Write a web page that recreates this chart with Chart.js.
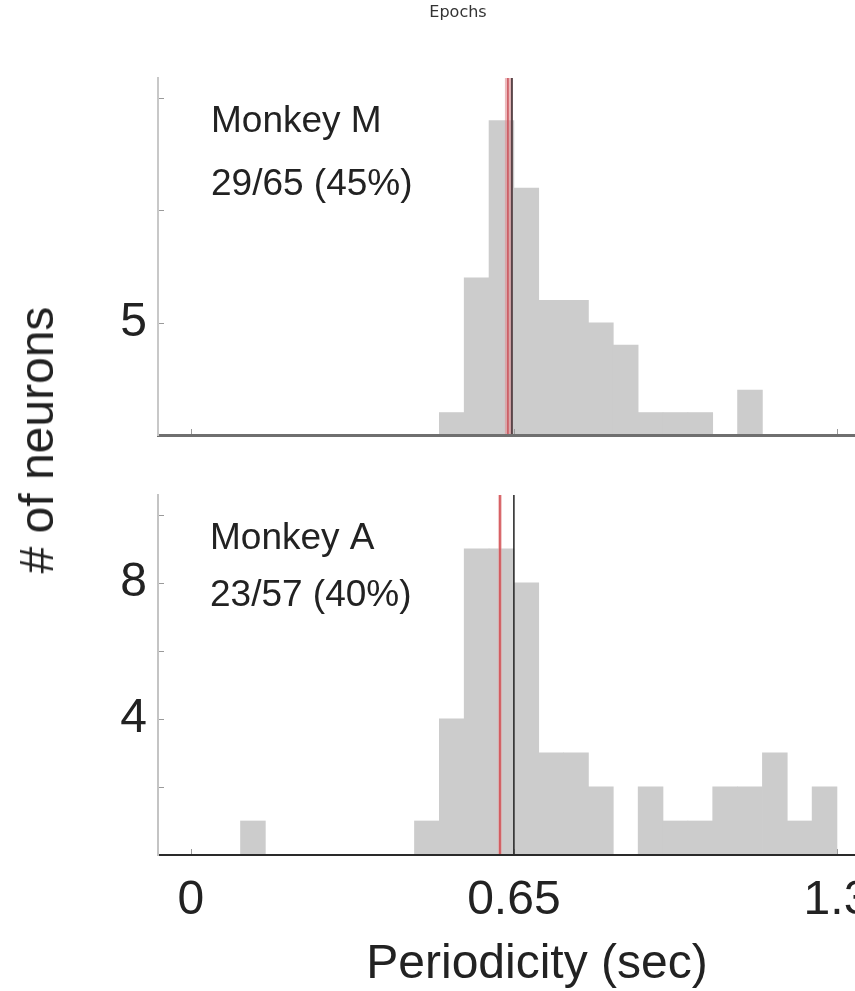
<!DOCTYPE html>
<html>
<head>
<meta charset="utf-8">
<title>Periodicity histogram</title>
<script src="https://cdn.jsdelivr.net/npm/chart.js@4.4.1/dist/chart.umd.min.js"></script>
<style>
  html, body { margin: 0; padding: 0; background: #fff; overflow: hidden; }
  body { width: 855px; height: 991px; position: relative; }
  canvas { position: absolute; left: 0; }
  #topChart { top: 0; }
  #bottomChart { top: 460px; }
  #yTitle {
    position: absolute; left: 37px; top: 440px;
    transform: translate(-50%, -50%) rotate(-90deg);
    font: 48px "Liberation Sans", Arial, sans-serif; line-height: 1;
    color: #222; white-space: nowrap;
  }
</style>
</head>
<body>
<canvas id="topChart" width="916" height="470"></canvas>
<canvas id="bottomChart" width="916" height="531"></canvas>
<div id="yTitle"># of neurons</div>
<script>
// bin left edges (sec), each bin 0.05 wide
var binWidth = 0.05;
var binStarts = [0.10, 0.15, 0.20, 0.25, 0.30, 0.35, 0.40, 0.45, 0.50, 0.55, 0.60, 0.65,
                 0.70, 0.75, 0.80, 0.85, 0.90, 0.95, 1.00, 1.05, 1.10, 1.15, 1.20, 1.25];
var countsM = [0, 0, 0, 0, 0, 0, 0, 0, 1, 7, 14, 11, 6, 6, 5, 4, 1, 1, 1, 0, 2, 0, 0, 0];
var countsA = [1, 0, 0, 0, 0, 0, 0, 1, 4, 9, 9, 8, 3, 3, 2, 0, 2, 1, 1, 2, 2, 3, 1, 2];

var xTickValues = [0, 0.65, 1.3];
var xTickLabels = ['0', '0.65', '1.3'];
var yTicksM = [5, 10, 15];
var yLabelsM = ['5', '', ''];
var yTicksA = [2, 4, 6, 8, 10];
var yLabelsA = ['', '4', '', '8', ''];

// red / black reference lines (sec)
var redLineM = 0.638, blackLineM = 0.646;
var redLineA = 0.622, blackLineA = 0.650;

var textM = ['Monkey M', '29/65 (45%)'];
var textA = ['Monkey A', '23/57 (40%)'];

var sans = '"Liberation Sans", Arial, sans-serif';

function toBins(counts) {
    return binStarts.map(function(s, i) {
        return { x: s + binWidth / 2, y: counts[i] };
    });
}

// inward tick marks, reference lines and panel labels
var panelPlugin = {
    id: 'panel',
    afterDatasetsDraw: function(chart, args, opts) {
        var ctx = chart.ctx, area = chart.chartArea;
        var xs = chart.scales.x, ys = chart.scales.y;
        ctx.save();
        ctx.strokeStyle = '#9a9a9a';
        ctx.lineWidth = 1;
        ys.ticks.forEach(function(t) {
            var py = Math.round(ys.getPixelForValue(t.value)) + 0.5;
            ctx.beginPath();
            ctx.moveTo(area.left, py);
            ctx.lineTo(area.left + 6, py);
            ctx.stroke();
        });
        xs.ticks.forEach(function(t) {
            var px = Math.round(xs.getPixelForValue(t.value)) + 0.5;
            ctx.beginPath();
            ctx.moveTo(px, area.bottom);
            ctx.lineTo(px, area.bottom - 6);
            ctx.stroke();
        });
        opts.lines.forEach(function(l) {
            var px = xs.getPixelForValue(l.value);
            ctx.strokeStyle = l.color;
            ctx.lineWidth = l.width;
            ctx.beginPath();
            ctx.moveTo(px, area.top);
            ctx.lineTo(px, area.bottom);
            ctx.stroke();
        });
        ctx.fillStyle = '#222';
        ctx.font = '37px ' + sans;
        ctx.textAlign = 'left';
        ctx.textBaseline = 'alphabetic';
        opts.texts.forEach(function(s, i) {
            ctx.fillText(s, area.left + opts.textX, area.top + opts.textY[i]);
        });
        ctx.restore();
    }
};

function makeChart(id, counts, cfg) {
    return new Chart(document.getElementById(id), {
        type: 'bar',
        data: {
            datasets: [{
                data: toBins(counts),
                backgroundColor: '#cccccc',
                borderWidth: 0,
                barPercentage: 1,
                categoryPercentage: 1
            }]
        },
        options: {
            responsive: false,
            animation: false,
            devicePixelRatio: 1,
            layout: { padding: cfg.padding },
            scales: {
                x: {
                    type: 'linear',
                    min: -0.066,
                    max: 1.459,
                    offset: false,
                    grid: { display: false, drawTicks: false },
                    border: { display: true, color: cfg.xBorder, width: cfg.xBorderWidth, z: 1 },
                    afterBuildTicks: function(scale) {
                        scale.ticks = xTickValues.map(function(v) { return { value: v }; });
                    },
                    afterFit: function(scale) { scale.height = cfg.xHeight; },
                    ticks: {
                        display: cfg.showX,
                        autoSkip: false,
                        maxRotation: 0,
                        padding: 22,
                        color: '#222',
                        font: { family: sans, size: 48, lineHeight: 1 },
                        callback: function(v, i) { return xTickLabels[i]; }
                    },
                    title: {
                        display: cfg.showX,
                        text: 'Periodicity (sec)',
                        color: '#222',
                        padding: { top: 0, bottom: 2 },
                        font: { family: sans, size: 48, lineHeight: 1 }
                    }
                },
                y: {
                    min: 0,
                    max: cfg.yMax,
                    grid: { display: false, drawTicks: false },
                    border: { display: true, color: cfg.yBorder, width: 2, z: 1 },
                    afterBuildTicks: function(scale) {
                        scale.ticks = cfg.yTicks.map(function(v) { return { value: v }; });
                    },
                    afterFit: function(scale) { scale.width = 158; },
                    ticks: {
                        padding: 11,
                        color: '#222',
                        font: { family: sans, size: 48, lineHeight: 1 },
                        callback: function(v, i) { return cfg.yLabels[i]; }
                    }
                }
            },
            plugins: {
                legend: { display: false },
                tooltip: { enabled: false },
                title: cfg.title,
                panel: cfg.panel
            }
        },
        plugins: [panelPlugin]
    });
}

makeChart('topChart', countsM, {
    padding: { top: 0, left: 0, right: 0, bottom: 32 },
    xHeight: 0,
    showX: false,
    xBorder: '#6f6f6f',
    xBorderWidth: 3,
    yBorder: '#c8c8c8',
    yMax: 15.9,
    yTicks: yTicksM,
    yLabels: yLabelsM,
    title: {
        display: true,
        text: 'Epochs',
        color: '#333',
        padding: { top: 3, bottom: 55.8 },
        font: { family: '"DejaVu Sans", sans-serif', size: 16, weight: 'normal', lineHeight: 1.2 }
    },
    panel: {
        lines: [
            { value: redLineM, color: 'rgba(225,140,145,0.6)', width: 6 },
            { value: redLineM, color: '#c9525a', width: 1.5 },
            { value: blackLineM, color: '#5a4448', width: 2 }
        ],
        texts: textM,
        textX: 53,
        textY: [54, 117]
    }
});

makeChart('bottomChart', countsA, {
    padding: { top: 33, left: 0, right: 0, bottom: 0 },
    xHeight: 136,
    showX: true,
    xBorder: '#2a2a2a',
    xBorderWidth: 2,
    yBorder: '#c4c4c4',
    yMax: 10.58,
    yTicks: yTicksA,
    yLabels: yLabelsA,
    title: { display: false },
    panel: {
        lines: [
            { value: redLineA, color: 'rgba(230,150,150,0.5)', width: 4 },
            { value: redLineA, color: '#d0454a', width: 1.5 },
            { value: blackLineA, color: '#222222', width: 1.5 }
        ],
        texts: textA,
        textX: 52,
        textY: [54, 111]
    }
});
</script>
</body>
</html>
